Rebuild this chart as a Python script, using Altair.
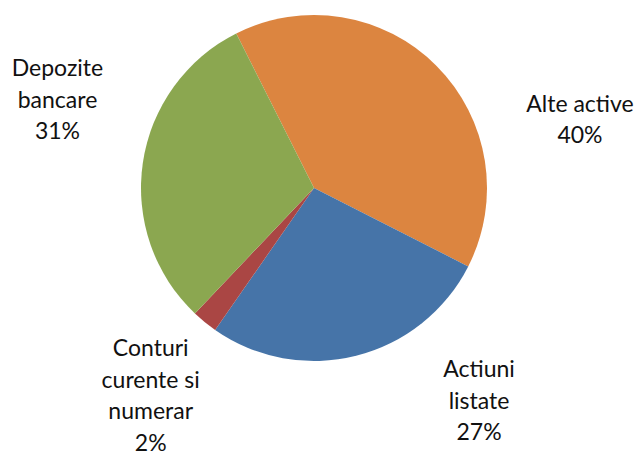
import math
import altair as alt
import pandas as pd

# ---- data ----
categories = ["Alte active", "Actiuni listate", "Conturi curente si numerar", "Depozite bancare"]
values = [39.9, 27.2, 2.4, 30.5]
labels = ["Alte active\n40%", "Actiuni\nlistate\n27%", "Conturi\ncurente si\nnumerar\n2%", "Depozite\nbancare\n31%"]
order = [0, 1, 2, 3]

# ---- style ----
colors = ["#DC8540", "#4674A8", "#AA4644", "#8BA750"]
label_dx = [103, 109, -18, -29]
label_dy = [86, -34, -10, -78]
label_radius = 230
pie_radius = 173
cx, cy = 306, 180
start = math.radians(-26.7)

df = pd.DataFrame({"cat": categories, "value": values, "label": labels, "order": order})
total = float(sum(values))

theta_scale = alt.Scale(domain=[0, total], range=[start, start + 2 * math.pi])

base = alt.Chart(df)

pie = base.mark_arc(outerRadius=pie_radius, stroke=None).encode(
    theta=alt.Theta("value:Q", stack=True, scale=theta_scale),
    order=alt.Order("order:Q"),
    color=alt.Color("cat:N", scale=alt.Scale(domain=categories, range=colors), legend=None),
    x=alt.value(cx),
    y=alt.value(cy),
)

layers = [pie]
for i, cat in enumerate(categories):
    t = (
        base.transform_window(cum="sum(value)", sort=[alt.SortField("order")])
        .transform_calculate(mid="datum.cum - datum.value / 2")
        .transform_filter(alt.datum.cat == cat)
        .mark_text(
            radius=label_radius,
            dx=label_dx[i],
            dy=label_dy[i],
            lineBreak="\n",
            font="Lato",
            fontSize=23,
            fontWeight=400,
            lineHeight=31.5,
            align="center",
            baseline="alphabetic",
            color="#111111",
        )
        .encode(
            theta=alt.Theta("mid:Q", stack=None, scale=theta_scale),
            text="label:N",
            x=alt.value(cx),
            y=alt.value(cy),
        )
    )
    layers.append(t)

chart = (
    alt.layer(*layers)
    .properties(width=626, height=443, padding=0, autosize=alt.AutoSizeParams(type="none"))
    .configure_view(stroke=None)
)

chart.save("out.html", embed_options={"renderer": "svg", "actions": False})
